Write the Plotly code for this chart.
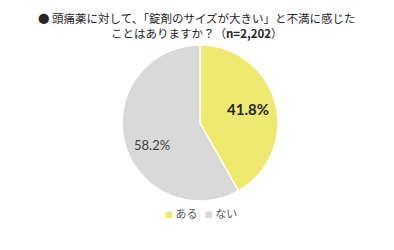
import math
import plotly.graph_objects as go

labels = ["ある", "ない"]
values = [41.8, 58.2]
colors = ["#EEEA70", "#D9D9D9"]
title_line1 = "● 頭痛薬に対して、「錠剤のサイズが大きい」と不満に感じた"
title_line2 = "ことはありますか？（<b>n=2,202</b>）"

W, H = 394, 250
cx, cy, r = 200, 123, 78

fig = go.Figure(go.Pie(
    labels=labels,
    values=values,
    sort=False,
    direction="clockwise",
    rotation=0,
    marker=dict(colors=colors, line=dict(color="white", width=1.5)),
    textinfo="none",
    hoverinfo="skip",
    showlegend=False,
    domain=dict(x=[(cx - r) / W, (cx + r) / W], y=[1 - (cy + r) / H, 1 - (cy - r) / H]),
))

annotations = [
    dict(text=title_line1 + "<br>" + title_line2, x=0.5, y=1 - 26 / H, xref="paper", yref="paper",
         xanchor="center", yanchor="middle", showarrow=False,
         font=dict(size=11.5, color="#262626", family="Noto Sans CJK JP"), align="center"),
]

# slice value labels, placed from the data angles
total = sum(values)
start = 0.0
label_fmt = ["<b>{:.1f}%</b>", "{:.1f}%"]
label_size = [15, 13]
label_color = ["#262626", "#404040"]
label_rf = [0.63, 0.63]
label_dy = [-1, 9]
for i, v in enumerate(values):
    mid = (start + v / 2) / total * 2 * math.pi
    start += v
    rr = r * label_rf[i]
    px = cx + rr * math.sin(mid)
    py = cy - rr * math.cos(mid) + label_dy[i]
    annotations.append(dict(text=label_fmt[i].format(v), x=px / W, y=1 - py / H,
                            xref="paper", yref="paper", xanchor="center", yanchor="middle",
                            showarrow=False,
                            font=dict(size=label_size[i], color=label_color[i],
                                      family="Lato, Noto Sans CJK JP")))

legend_text = "   ".join(
    f"<span style='color:{c};font-size:8px'>■</span> {l}" for l, c in zip(labels, colors)
)
annotations.append(dict(text=legend_text, x=0.51, y=1 - 213 / H, xref="paper", yref="paper",
                        xanchor="center", yanchor="middle", showarrow=False,
                        font=dict(size=11, color="#595959", family="Noto Sans CJK JP")))

fig.update_layout(
    width=W, height=H,
    margin=dict(l=0, r=0, t=0, b=0),
    paper_bgcolor="white",
    font=dict(family="Noto Sans CJK JP", color="#404040"),
    showlegend=False,
    annotations=annotations,
)

fig.write_html("out.html")
